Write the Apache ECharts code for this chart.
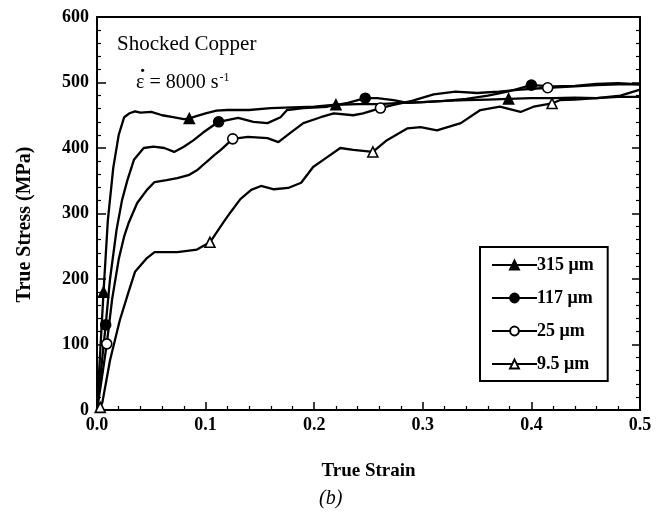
<!DOCTYPE html>
<html><head><meta charset="utf-8">
<script src="https://cdn.jsdelivr.net/npm/echarts@6/dist/echarts.min.js"></script>
<style>html,body{margin:0;padding:0;background:#fff}#c{width:665px;height:518px}</style>
</head><body><div id="c"></div>
<script>
// ---- data (strain, stress in MPa) ----
const seriesNames = ['315 μm', '117 μm', '25 μm', '9.5 μm'];
const xTickLabels = ['0.0', '0.1', '0.2', '0.3', '0.4', '0.5'];
const yTickLabels = ['0', '100', '200', '300', '400', '500', '600'];

const curve315 = [[0,0],[0.003,90],[0.006,180],[0.010,290],[0.015,370],[0.020,420],[0.025,447],[0.030,453],[0.035,456],[0.040,454],[0.050,455],[0.060,450],[0.070,447],[0.080,444],[0.085,445],[0.090,448],[0.100,453],[0.110,457],[0.120,458],[0.140,458],[0.160,461],[0.180,462],[0.200,463],[0.220,466],[0.240,467],[0.260,467],[0.280,469],[0.300,470],[0.320,472],[0.340,473],[0.360,474],[0.379,475],[0.400,476],[0.420,476],[0.440,477],[0.460,476],[0.480,478],[0.500,478]];
const markers315 = [0.006, 0.085, 0.220, 0.379];

const curve117 = [[0,0],[0.004,65],[0.008,130],[0.012,200],[0.018,275],[0.023,320],[0.028,351],[0.034,382],[0.043,400],[0.052,402],[0.062,400],[0.071,394],[0.080,402],[0.089,412],[0.098,424],[0.112,440],[0.130,446],[0.144,440],[0.157,438],[0.169,447],[0.175,458],[0.190,461],[0.212,463],[0.231,469],[0.247,476],[0.258,476],[0.273,473],[0.286,469],[0.300,470],[0.320,472],[0.340,475],[0.360,480],[0.380,487],[0.400,496],[0.420,494],[0.440,495],[0.460,498],[0.480,499],[0.500,497]];
const markers117 = [0.008, 0.112, 0.247, 0.400];

const curve25 = [[0,0],[0.005,55],[0.009,101],[0.014,170],[0.020,230],[0.025,265],[0.029,285],[0.037,316],[0.046,336],[0.053,348],[0.064,351],[0.074,354],[0.085,359],[0.092,366],[0.101,379],[0.108,389],[0.114,397],[0.125,414],[0.139,417],[0.157,415],[0.167,409],[0.178,423],[0.190,438],[0.206,447],[0.218,453],[0.236,450],[0.245,453],[0.261,461],[0.273,466],[0.290,472],[0.310,482],[0.330,486],[0.350,484],[0.370,486],[0.390,489],[0.415,492],[0.440,494],[0.460,496],[0.480,497],[0.500,497]];
const markers25 = [0.009, 0.125, 0.261, 0.415];

const curve95 = [[0,0],[0.003,4],[0.005,12],[0.012,76],[0.021,137],[0.029,180],[0.035,211],[0.046,232],[0.053,241],[0.074,241],[0.092,245],[0.104,256],[0.117,288],[0.123,302],[0.132,322],[0.142,336],[0.151,342],[0.163,337],[0.176,339],[0.188,347],[0.199,371],[0.212,386],[0.224,400],[0.236,397],[0.254,394],[0.267,412],[0.286,430],[0.298,432],[0.313,427],[0.335,438],[0.353,458],[0.371,463],[0.390,455],[0.402,463],[0.419,468],[0.426,473],[0.440,474],[0.460,476],[0.482,480],[0.500,489]];
const markers95 = [0.003, 0.104, 0.254, 0.419];

// ---- build ----
const SERIF = '"Liberation Serif","DejaVu Serif",serif';
function build(curve, marks) {
  return curve.map(p => marks.indexOf(p[0]) >= 0 ? { value: p } : { value: p, symbol: 'none' });
}
const defs = [
  { curve: curve315, marks: markers315, symbol: 'triangle', fill: '#000' },
  { curve: curve117, marks: markers117, symbol: 'circle', fill: '#000' },
  { curve: curve25, marks: markers25, symbol: 'circle', fill: '#fff' },
  { curve: curve95, marks: markers95, symbol: 'triangle', fill: '#fff' }
];
const series = defs.map((d, i) => ({
  name: seriesNames[i], type: 'line', data: build(d.curve, d.marks),
  symbol: d.symbol, symbolSize: 10, showSymbol: true, showAllSymbol: true,
  lineStyle: { color: '#000', width: 2.3 },
  itemStyle: { color: d.fill, borderColor: '#000', borderWidth: 1.6 },
  animation: false, z: 3 + i
}));

const chart = echarts.init(document.getElementById('c'), null, { renderer: 'canvas' });
const axisCommon = {
  axisLine: { show: true, onZero: false, lineStyle: { color: '#000', width: 2 } },
  splitLine: { show: false }
};
chart.setOption({
  backgroundColor: '#fff',
  animation: false,
  grid: { left: 97, right: 25, top: 17, bottom: 108 },
  legend: {
    orient: 'vertical', left: 480, top: 247,
    data: seriesNames,
    itemWidth: 45, itemHeight: 11, itemGap: 15,
    padding: [9, 14, 8, 11],
    borderColor: '#000', borderWidth: 2,
    textStyle: { fontFamily: SERIF, fontSize: 18, fontWeight: 'bold', color: '#000', padding: [0,0,0,-5] }
  },
  xAxis: [
    Object.assign({}, axisCommon, {
      type: 'value', min: 0, max: 0.5, interval: 0.1, position: 'bottom',
      name: 'True Strain', nameLocation: 'middle', nameGap: 52,
      nameTextStyle: { fontFamily: SERIF, fontSize: 19, fontWeight: 'bold', color: '#000' },
      axisTick: { inside: true, length: 8, lineStyle: { color: '#000', width: 1.5 } },
      minorTick: { show: true, splitNumber: 5, length: 4, lineStyle: { color: '#000', width: 1.2 } },
      axisLabel: { fontFamily: SERIF, fontSize: 18, fontWeight: 'bold', color: '#000', margin: 6,
        formatter: v => xTickLabels[Math.round(v * 10)] }
    }),
    Object.assign({}, axisCommon, {
      type: 'value', min: 0, max: 0.5, interval: 0.1, position: 'top',
      axisTick: { show: false }, axisLabel: { show: false }
    })
  ],
  yAxis: [
    Object.assign({}, axisCommon, {
      type: 'value', min: 0, max: 600, interval: 100, position: 'left',
      name: 'True Stress (MPa)', nameLocation: 'middle', nameGap: 62,
      nameTextStyle: { fontFamily: SERIF, fontSize: 20, fontWeight: 'bold', color: '#000', padding: [0, 22, 0, 0] },
      axisTick: { inside: true, length: 9, lineStyle: { color: '#000', width: 1.5 } },
      minorTick: { show: true, splitNumber: 5, length: 4, lineStyle: { color: '#000', width: 1.2 } },
      axisLabel: { fontFamily: SERIF, fontSize: 18, fontWeight: 'bold', color: '#000', margin: 8,
        formatter: v => yTickLabels[Math.round(v / 100)] }
    }),
    Object.assign({}, axisCommon, {
      type: 'value', min: 0, max: 600, interval: 100, position: 'right',
      axisTick: { inside: true, length: 8, lineStyle: { color: '#000', width: 1.5 } },
      minorTick: { show: true, splitNumber: 5, length: 4, lineStyle: { color: '#000', width: 1.2 } },
      axisLabel: { show: false }
    })
  ],
  graphic: [
    { type: 'text', left: 117, top: 34, style: { text: 'Shocked Copper', font: '21px ' + SERIF, fill: '#000' } },
    { type: 'text', left: 136, top: 72, style: {
        text: '{a|ε = 8000 s}{b|-1}',
        rich: { a: { font: '20px ' + SERIF, fill: '#000' }, b: { font: '12px ' + SERIF, fill: '#000', verticalAlign: 'top', padding: [0,0,10,1] } } } },
    { type: 'text', left: 139, top: 67, style: { text: '˙', font: 'bold 22px ' + SERIF, fill: '#000' } },
    { type: 'text', left: 319, top: 489, style: { text: '(b)', font: 'italic 20px ' + SERIF, fill: '#000' } }
  ],
  series: series
});
</script>
</body></html>
